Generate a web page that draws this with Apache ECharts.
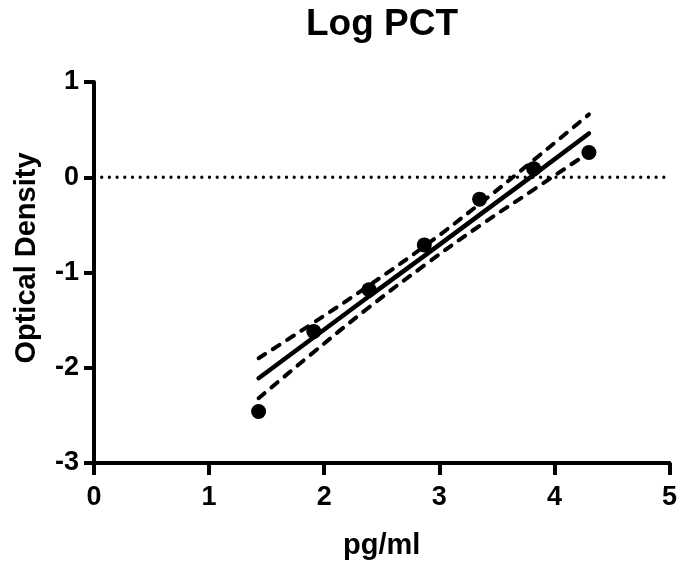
<!DOCTYPE html>
<html><head><meta charset="utf-8">
<script src="https://cdn.jsdelivr.net/npm/echarts@6/dist/echarts.min.js"></script>
<style>html,body{margin:0;padding:0;background:#fff}#c{width:680px;height:566px}</style>
</head><body><div id="c"></div>
<script>
const pointX = [1.43, 1.91, 2.39, 2.87, 3.35, 3.82, 4.30];
const pointY = [-2.46, -1.62, -1.18, -0.71, -0.23, 0.09, 0.26];
const fitX = [1.43, 1.91, 2.39, 2.87, 3.35, 3.82, 4.30];
const fitY = [-2.11, -1.68, -1.25, -0.825, -0.395, 0.025, 0.46];
const upperY = [-1.90, -1.525, -1.135, -0.725, -0.28, 0.18, 0.66];
const lowerY = [-2.32, -1.835, -1.365, -0.925, -0.51, -0.13, 0.26];
const xTicks = [0, 1, 2, 3, 4, 5];
const yTicks = [-3, -2, -1, 0, 1];
const titleText = 'Log PCT';
const xName = 'pg/ml';
const yName = 'Optical Density';

const font = 'Liberation Sans, Arial, sans-serif';
const zip = (xs, ys) => xs.map((x, i) => [x, ys[i]]);
const chart = echarts.init(document.getElementById('c'));
chart.setOption({
  animation: false,
  title: { text: titleText, left: 377, textAlign: 'center', top: 1,
    textStyle: { fontFamily: font, fontWeight: 'bold', fontSize: 37, color: '#000' } },
  grid: { left: 94, right: 10, top: 82, bottom: 103 },
  graphic: [{
    type: 'text', x: 27, y: 258, rotation: Math.PI / 2,
    style: { text: yName, font: 'bold 29px ' + font, fill: '#000', textAlign: 'center', textVerticalAlign: 'middle' }
  }],
  xAxis: {
    type: 'value', min: xTicks[0], max: xTicks[xTicks.length - 1], interval: 1,
    name: xName, nameLocation: 'middle', nameGap: 68,
    nameTextStyle: { fontFamily: font, fontWeight: 'bold', fontSize: 29, color: '#000' },
    axisLine: { onZero: false, lineStyle: { color: '#000', width: 4 } },
    axisTick: { length: 12, lineStyle: { color: '#000', width: 4 } },
    axisLabel: { margin: 21, fontFamily: font, fontWeight: 'bold', fontSize: 27, color: '#000' },
    splitLine: { show: false }
  },
  yAxis: {
    type: 'value', min: yTicks[0], max: yTicks[yTicks.length - 1], interval: 1,
    axisLine: { onZero: false, lineStyle: { color: '#000', width: 4 } },
    axisTick: { length: 10, lineStyle: { color: '#000', width: 4 } },
    axisLabel: { margin: 15, fontFamily: font, fontWeight: 'bold', fontSize: 27, color: '#000' },
    splitLine: { show: false }
  },
  series: [
    { type: 'line', data: [[xTicks[0], 0], [xTicks[xTicks.length - 1], 0]], symbol: 'none', silent: true,
      lineStyle: { color: '#000', width: 3.3, type: [0, 7.7], cap: 'round' }, z: 1 },
    { type: 'line', data: zip(fitX, upperY), symbol: 'none', smooth: true,
      lineStyle: { color: '#000', width: 4, type: [8, 9], cap: 'round' }, z: 2 },
    { type: 'line', data: zip(fitX, lowerY), symbol: 'none', smooth: true,
      lineStyle: { color: '#000', width: 4, type: [8, 9], cap: 'round' }, z: 2 },
    { type: 'line', data: zip(fitX, fitY), symbol: 'none',
      lineStyle: { color: '#000', width: 4.5, cap: 'round' }, z: 3 },
    { type: 'scatter', data: zip(pointX, pointY), symbol: 'circle', symbolSize: 15,
      itemStyle: { color: '#000', opacity: 1 }, z: 4 }
  ]
});
</script></body></html>
